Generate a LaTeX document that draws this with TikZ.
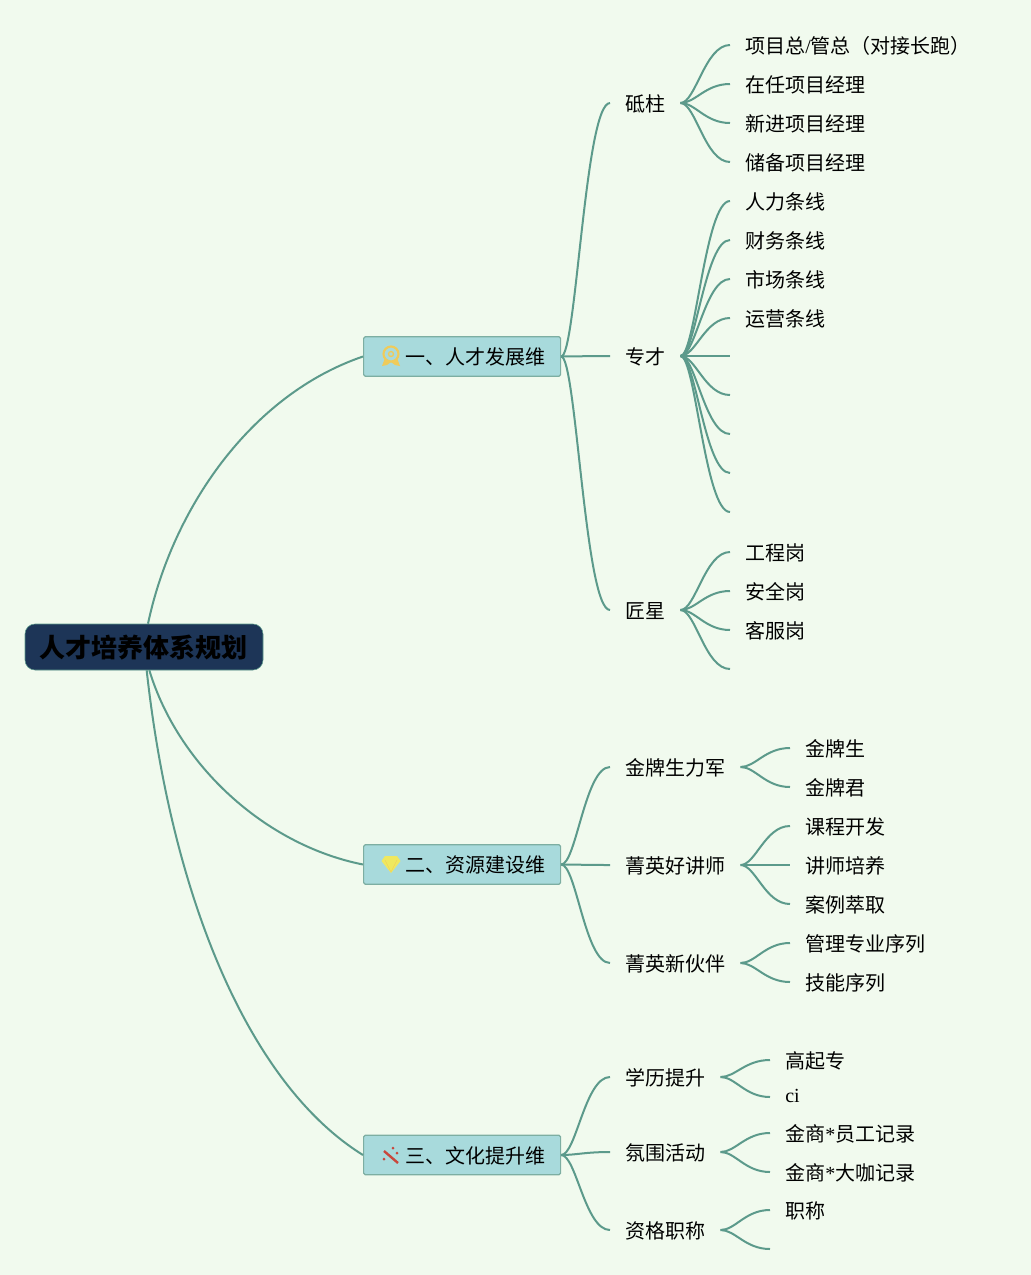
\documentclass[tikz,border=0pt]{standalone}
\usepackage{fontspec}
\setmainfont{Liberation Serif}
\newfontfamily\cjk{Noto Sans CJK SC}
\newcommand{\lat}[1]{{\rmfamily #1}}
\definecolor{paper}{HTML}{F1FAEE}
\definecolor{navy}{HTML}{1D3557}
\definecolor{aqua}{HTML}{A8DADC}
\definecolor{branchgreen}{HTML}{5C9A8B}
\definecolor{medal}{HTML}{EFCB5A}
\definecolor{gem}{HTML}{EFE85F}
\definecolor{wand}{HTML}{C9473C}
\tikzset{
    branch/.style={draw=branchgreen, line width=1.5pt},
    rootbox/.style={fill=navy, draw=branchgreen, line width=0.4pt, rounded corners=7.5pt, minimum width=178.5pt, minimum height=34.5pt, inner sep=0pt, text height=16pt, text depth=0.5pt, font=\cjk\bfseries\fontsize{19.5}{20}\selectfont, text=black},
    topicbox/.style={fill=aqua, draw=branchgreen!80, line width=0.9pt, rounded corners=1.2pt, anchor=west, minimum height=29.5pt, inner xsep=11.25pt, inner ysep=0pt, text height=13pt, text depth=1pt, font=\cjk\fontsize{15}{16}\selectfont, text=black, execute at begin node={\hspace*{20.25pt}}},
    item/.style={anchor=west, inner xsep=11.25pt, inner ysep=0pt, text height=13pt, text depth=1pt, font=\cjk\fontsize{15}{16}\selectfont, text=black}
}
\begin{document}
\begin{tikzpicture}[x=0.75pt, y=-0.75pt]
    % fill in background
    \fill[paper] (0, 0) rectangle (1031, 1275);

    % draw root and main topics
    \node[rootbox] (root) at (144, 647) {人才培养体系规划};
    \node[topicbox] (talent) at (363, 356.5) {一、人才发展维};
    \node[topicbox] (resource) at (363, 864.5) {二、资源建设维};
    \node[topicbox] (culture) at (363, 1155) {三、文化提升维};

    % draw root branches
    \draw[branch] ([xshift=3pt]root.north) .. controls (172, 510) and (250, 395) .. (talent.west);
    \draw[branch] ([xshift=4pt]root.south) .. controls (178, 765) and (265, 845) .. (resource.west);
    \draw[branch] ([xshift=2pt]root.south) .. controls (172, 900) and (250, 1085) .. (culture.west);

    % draw second level, one loop per main topic
    \foreach \name/\y/\lab in {pillar/103/砥柱, expert/356/专才, craftsman/610/匠星} {
        \node[item] (\name) at (610, \y) {\lab};
        \draw[branch] (talent.east) .. controls +(15, 0) and +(-25, 0) .. (\name.west);
    }
    \foreach \name/\y/\lab in {gold/767/金牌生力军, lecturer/865/菁英好讲师, partner/963/菁英新伙伴} {
        \node[item] (\name) at (610, \y) {\lab};
        \draw[branch] (resource.east) .. controls +(15, 0) and +(-25, 0) .. (\name.west);
    }
    \foreach \name/\y/\lab in {degree/1077/学历提升, mood/1152/氛围活动, title/1230/资格职称} {
        \node[item] (\name) at (610, \y) {\lab};
        \draw[branch] (culture.east) .. controls +(15, 0) and +(-25, 0) .. (\name.west);
    }

    % draw leaves of the first topic
    \foreach \name/\y/\lab in {pa/45/{项目总\lat{/}管总（对接长跑）}, pb/84/在任项目经理, pc/123/新进项目经理, pd/162/储备项目经理} {
        \node[item] (\name) at (730, \y) {\lab};
        \draw[branch] (pillar.east) .. controls +(15, 0) and +(-25, 0) .. (\name.west);
    }
    \foreach \name/\y/\lab in {ea/201/人力条线, eb/240/财务条线, ec/279/市场条线, ed/318/运营条线, ee/356/{}, ef/395/{}, eg/434/{}, eh/473/{}, ei/512/{}} {
        \node[item] (\name) at (730, \y) {\lab};
        \draw[branch] (expert.east) .. controls +(15, 0) and +(-25, 0) .. (\name.west);
    }
    \foreach \name/\y/\lab in {ca/552/工程岗, cb/591/安全岗, cc/630/客服岗, cd/669/{}} {
        \node[item] (\name) at (730, \y) {\lab};
        \draw[branch] (craftsman.east) .. controls +(15, 0) and +(-25, 0) .. (\name.west);
    }

    % draw leaves of the second topic
    \foreach \name/\y/\lab in {ga/748/金牌生, gb/787/金牌君} {
        \node[item] (\name) at (790, \y) {\lab};
        \draw[branch] (gold.east) .. controls +(15, 0) and +(-25, 0) .. (\name.west);
    }
    \foreach \name/\y/\lab in {la/826/课程开发, lb/865/讲师培养, lc/904/案例萃取} {
        \node[item] (\name) at (790, \y) {\lab};
        \draw[branch] (lecturer.east) .. controls +(15, 0) and +(-25, 0) .. (\name.west);
    }
    \foreach \name/\y/\lab in {na/943/管理专业序列, nb/982/技能序列} {
        \node[item] (\name) at (790, \y) {\lab};
        \draw[branch] (partner.east) .. controls +(15, 0) and +(-25, 0) .. (\name.west);
    }

    % draw leaves of the third topic
    \foreach \name/\y/\lab in {da/1060/高起专, db/1097/\raisebox{2pt}{\lat{ci}}} {
        \node[item] (\name) at (770, \y) {\lab};
        \draw[branch] (degree.east) .. controls +(15, 0) and +(-25, 0) .. (\name.west);
    }
    \foreach \name/\y/\lab in {ma/1133/金商\lat{*}员工记录, mb/1172/金商\lat{*}大咖记录} {
        \node[item] (\name) at (770, \y) {\lab};
        \draw[branch] (mood.east) .. controls +(15, 0) and +(-25, 0) .. (\name.west);
    }
    \foreach \name/\y/\lab in {ta/1210/职称, tb/1249/{}} {
        \node[item] (\name) at (770, \y) {\lab};
        \draw[branch] (title.east) .. controls +(15, 0) and +(-25, 0) .. (\name.west);
    }

    % draw icons
    \fill[medal] (385, 358) -- (382, 366) -- (387, 365) -- (391, 362) -- (395, 365) -- (400, 366) -- (397, 358) -- cycle;
    \draw[line width=1.6pt, draw=medal, fill=aqua] (391, 354) circle (7.5);
    \draw[line width=1pt, draw=medal] (391, 354) circle (2.5);
    \fill[gem] (385, 856) -- (397, 856) -- (400.5, 861) -- (391, 873) -- (381.5, 861) -- cycle;
    \draw[line width=0.3pt, draw=medal] (385, 860) -- (391, 872) -- (397, 860);
    \draw[line width=1.8pt, draw=wand] (384, 1151) -- (398, 1163);
    \foreach \x/\y in {393/1148, 397/1153, 384/1159} {
        \fill[wand] (\x, \y) circle (1.5);
    }
\end{tikzpicture}
\end{document}
